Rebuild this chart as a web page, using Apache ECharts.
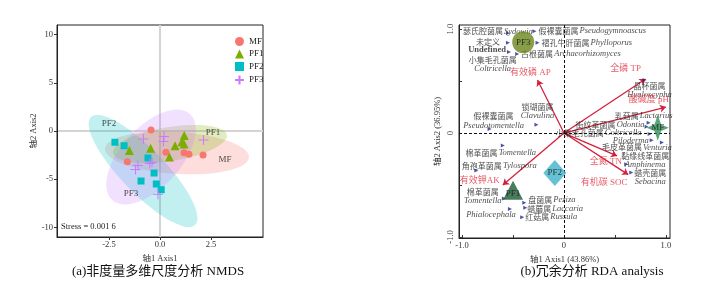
<!DOCTYPE html>
<html><head><meta charset="utf-8">
<script src="https://cdn.jsdelivr.net/npm/echarts@6/dist/echarts.min.js"></script>
<style>html,body{margin:0;padding:0;background:#fff}#c{width:722px;height:286px}</style>
</head><body><div id="c"></div>
<script>
// ===== Panel (a): NMDS =====
const groups = ['MF', 'PF1', 'PF2', 'PF3'];
const mfX  = [-0.44, 0.29, 1.18, 1.42, 2.11, -1.60];
const mfY  = [0.10, -2.21, -2.25, -2.42, -2.49, -3.19];
const pf1X = [1.19, 1.08, 1.18, 0.74, 0.46, -0.46, -1.50];
const pf1Y = [-0.47, -1.11, -1.35, -1.53, -2.70, -1.80, -2.02];
const pf2X = [-2.21, -1.76, -0.59, -0.29, -0.93, -0.18, 0.06];
const pf2Y = [-1.17, -1.53, -2.80, -4.36, -5.19, -5.50, -6.09];
const pf3X = [0.20, 0.17, -0.81, 2.13, -0.39, -0.50, -1.08, -1.20, -0.10];
const pf3Y = [-0.57, -1.09, -0.83, -0.93, -3.25, -3.37, -3.58, -4.00, -6.57];
// ellipse: centre x, centre y, conjugate semi-axis u (x,y), v (x,y) in data units
const ellMF  = [0.83, -2.28, 3.53, -0.42, 0.00, 2.18];
const ellPF1 = [0.49, -1.35, 2.79, 0.93, 0.13, -1.74];
const ellPF2 = [-0.83, -4.15, 2.55, -5.60, 0.78, 1.58];
const ellPF3 = [-0.44, -2.70, 1.91, 4.46, 1.08, -2.08];
const ellLabelX = [3.19, 2.60, -2.50, -1.42];
const ellLabelY = [-3.01, -0.21, 0.73, -6.54];
const nmdsXTicks = [-2.5, 0, 2.5];
const nmdsYTicks = [-10, -5, 0, 5, 10];
const stressText = 'Stress = 0.001 6';

// ===== Panel (b): RDA =====
const envNames = ['全磷 TP', '酸碱度 pH', '有效磷 AP', '有效钾AK', '全氮 TN', '有机碳 SOC'];
const envX = [0.80, 1.00, -0.26, -0.60, 0.52, 0.63];
const envY = [0.52, 0.25, 0.51, -0.50, -0.22, -0.40];
const grpNames = ['PF3', 'MF', 'PF2', 'PF1'];
const grpX = [-0.40, 0.92, -0.09, -0.50];
const grpY = [0.875, 0.05, -0.385, -0.55];
const spCN = ['瑟氏腔菌属','假裸囊菌属','未定义','Undefined','褶孔牛肝菌属','古根菌属','小集毛孔菌属','假裸囊菌属','锁瑚菌属','棉革菌属','角孢革菌属','棉革菌属','','盘菌属','蜡蘑属','红菇属','晶杯菌属','乳菇属','街纹革菌属','小集毛孔菌属','','毛皮革菌属','黏缘线革菌属','蜡壳菌属'];
const spLatin = ['Sydowia','Pseudogymnoascus','','','Phylloporus','Archaeorhizomyces','Coltricella','Pseudotomentella','Clavulina','Tomentella','Tylospora','Tomentella','Phialocephala','Peziza','Laccaria','Russula','Hyaloscypha','Lactarius','Odontia','Coltricella','Piloderma','Venturia','Amphinema','Sebacina'];
const spX = [-0.55,-0.29,-0.55,-0.54,-0.26,-0.46,-0.70,-0.73,-0.27,-0.60,-0.86,-0.59,-0.53,-0.39,-0.38,-0.41,0.79,0.83,0.81,0.84,0.86,0.96,0.61,0.66];
const spY = [0.96,0.98,0.87,0.78,0.87,0.76,0.66,0.04,0.08,-0.12,-0.36,-0.63,-0.73,-0.67,-0.72,-0.81,0.51,0.10,0.06,-0.01,-0.07,-0.09,-0.30,-0.38];
const rdaTicks = [-1, -0.5, 0, 0.5, 1];
const rdaLabels = [-1, 0, 1];

// ===== layout / style (not data) =====
const SERIF = "'Liberation Serif','Noto Sans CJK SC',serif";
const CJK = "'Noto Sans CJK SC','Liberation Serif',sans-serif";
const CAP = "'Liberation Serif','Noto Sans CJK SC',serif";
const colors = {MF:'#F8766D', PF1:'#7CAE00', PF2:'#00BFC4', PF3:'#C77CFF'};
const plusPath = 'path://M0,5L10,5M5,0L5,10';
// species label placement: [dx, dy, align, stacked]
const spLayout = [
  [-45,-2,'left',false],[4,0,'left',false],[-8,-1,'right',false],[-3,-2,'right',false],
  [4,0,'left',false],[4,0,'left',false],[0,0,'center',true],[4,-8,'center',true],
  [1,-13,'center',true],[-2,7,'center',false],[23,-5,'center',false],[-21,-2,'center',true],
  [-19,6,'center',false],[4,-3,'left',false],[2,1,'left',false],[3,0,'left',false],
  [5,10,'center',true],[-5,-7,'center',false],[-2,-2,'right',false],[-8,-1,'right',false],
  [-3,0,'right',false],[-25,5,'center',false],[19,-4,'center',true],[19,5,'center',true]
];
const envLayout = [[-20,-10],[-17,-7],[-7,-7],[-23,-4],[-11,6],[-24,8]];
const hiddenMarker = [6];

const zip = (xs, ys) => xs.map((x, i) => [x, ys[i]]);
const ellData = [ellMF, ellPF1, ellPF2, ellPF3];
const ptData = [zip(mfX, mfY), zip(pf1X, pf1Y), zip(pf2X, pf2Y), zip(pf3X, pf3Y)];
const symbols = ['circle', 'triangle', 'rect', plusPath];
const sizes = [7, 9, 7, 10];

function hexA(hex, a) {
  const n = parseInt(hex.slice(1), 16);
  return `rgba(${(n>>16)&255},${(n>>8)&255},${n&255},${a})`;
}

const series = [];
series.push({
  type: 'custom', name: 'ellipses', xAxisIndex: 0, yAxisIndex: 0, z: 1, silent: true,
  data: ellData.map((e, i) => ({value: e, name: groups[i]})),
  renderItem: function (params, api) {
    const cx = api.value(0), cy = api.value(1), ux = api.value(2), uy = api.value(3), vx = api.value(4), vy = api.value(5);
    const pts = [];
    for (let k = 0; k < 90; k++) {
      const t = k / 90 * Math.PI * 2;
      pts.push(api.coord([cx + Math.cos(t) * ux + Math.sin(t) * vx, cy + Math.cos(t) * uy + Math.sin(t) * vy]));
    }
    const g = groups[params.dataIndex];
    return {type: 'polygon', shape: {points: pts}, style: {fill: hexA(colors[g], 0.24), stroke: null}};
  },
  markLine: {
    silent: true, symbol: 'none', label: {show: false}, z: 0,
    lineStyle: {color: '#d4d4d4', width: 2, type: 'solid'},
    data: [{xAxis: 0}, {yAxis: 0}]
  }
});
groups.forEach((g, i) => {
  const isPlus = i === 3;
  series.push({
    type: 'scatter', name: g, xAxisIndex: 0, yAxisIndex: 0, z: 3,
    symbol: symbols[i], symbolSize: sizes[i], data: ptData[i],
    itemStyle: isPlus ? {color: 'rgba(0,0,0,0)', borderColor: colors[g], borderWidth: 1, opacity: 1}
                      : {color: colors[g], opacity: 1}
  });
});
series.push({
  type: 'scatter', name: 'ellLabels', xAxisIndex: 0, yAxisIndex: 0, z: 4, symbolSize: 0, silent: true,
  data: groups.map((g, i) => ({name: g, value: [ellLabelX[i], ellLabelY[i]]})),
  label: {show: true, position: 'inside', formatter: '{b}', color: '#222', fontFamily: SERIF, fontSize: 9}
});

// ---- Panel b ----
series.push({
  type: 'scatter', name: 'zeroB', xAxisIndex: 1, yAxisIndex: 1, data: [], z: 1,
  markLine: {
    silent: true, symbol: 'none', label: {show: false},
    lineStyle: {color: '#111', width: 1, type: [3, 2]},
    data: [{xAxis: 0}, {yAxis: 0}]
  }
});
series.push({
  type: 'lines', name: 'env', coordinateSystem: 'cartesian2d', xAxisIndex: 1, yAxisIndex: 1, z: 3,
  symbol: ['none', 'arrow'], symbolSize: 6, silent: true,
  lineStyle: {color: '#d41f3a', width: 1.3, opacity: 1},
  data: envX.map((x, i) => ({coords: [[0, 0], [x, envY[i]]]}))
});
series.push({
  type: 'scatter', name: 'envLabels', xAxisIndex: 1, yAxisIndex: 1, z: 6, symbolSize: 0, silent: true,
  data: envNames.map((n, i) => ({
    name: n, value: [envX[i], envY[i]],
    label: {offset: envLayout[i]}
  })),
  label: {show: true, position: 'inside', formatter: '{b}', color: '#e0303f', fontFamily: SERIF, fontSize: 9, align: 'center', verticalAlign: 'middle'}
});
series.push({
  type: 'scatter', name: 'species', xAxisIndex: 1, yAxisIndex: 1, z: 4, silent: true,
  symbol: 'triangle', symbolRotate: -90, symbolSize: 4, itemStyle: {color: '#1d2a90'},
  data: spX.map((x, i) => {
    const L = spLayout[i];
    const cn = spCN[i], la = spLatin[i];
    let txt;
    if (cn && la) txt = L[3] ? `{c|${cn}}\n{i|${la}}` : `{c|${cn}}{s| }{i|${la}}`;
    else if (cn) txt = cn === 'Undefined' ? `{u|${cn}}` : `{c|${cn}}`;
    else txt = `{i|${la}}`;
    return {
      value: [x, spY[i]],
      symbolSize: hiddenMarker.includes(i) ? 0 : 4,
      label: {
        show: true, position: 'inside', offset: [L[0], L[1]], align: L[2], verticalAlign: 'middle',
        formatter: txt,
        rich: {
          c: {fontFamily: CJK, fontSize: 8, color: '#222', align: L[2], lineHeight: 9},
          i: {fontFamily: SERIF, fontStyle: 'italic', fontSize: 8.5, color: '#222', align: L[2], lineHeight: 9},
          u: {fontFamily: SERIF, fontSize: 8.5, color: '#222', fontWeight: 'bold', align: L[2]},
          s: {fontSize: 4}
        }
      }
    };
  })
});
const grpStyle = {
  PF3: {symbol: 'circle', symbolSize: 22, color: '#6b861c'},
  MF: {symbol: 'path://M0,-12L3,-3L10,0L3,3L0,12L-3,3L-10,0L-3,-3Z', symbolSize: [22, 26], color: '#2e8e58'},
  PF2: {symbol: 'diamond', symbolSize: [23, 26], color: '#3eb3c9'},
  PF1: {symbol: 'triangle', symbolSize: [20, 19], color: '#1c5a34'}
};
series.push({
  type: 'scatter', name: 'groupsB', xAxisIndex: 1, yAxisIndex: 1, z: 5, silent: true,
  data: grpNames.map((g, i) => ({
    name: g, value: [grpX[i], grpY[i]],
    symbol: grpStyle[g].symbol, symbolSize: grpStyle[g].symbolSize,
    itemStyle: {color: grpStyle[g].color},
    label: {offset: g === 'PF1' ? [0, 3] : [0, 0]}
  })),
  label: {show: true, position: 'inside', formatter: '{b}', color: '#111', fontFamily: SERIF, fontSize: 9}
});

const axLab = {fontFamily: SERIF, fontSize: 8.5, color: '#333'};
const option = {
  animation: false,
  backgroundColor: '#fff',
  grid: [
    {left: 57, top: 25, width: 206, height: 212, show: true, borderColor: '#222', borderWidth: 1, backgroundColor: 'transparent'},
    {left: 459, top: 25, width: 211, height: 213, show: true, borderColor: '#222', borderWidth: 1, backgroundColor: 'transparent'}
  ],
  legend: {
    left: 229, top: 32, orient: 'vertical', itemWidth: 9, itemHeight: 9, itemGap: 3.5,
    textStyle: {fontFamily: SERIF, fontSize: 9, color: '#222'}, selectedMode: false,
    data: groups.map((g, i) => ({name: g, icon: symbols[i]}))
  },
  xAxis: [
    {gridIndex: 0, type: 'value', min: -5.05, max: 5.05, splitLine: {show: false},
     axisLine: {onZero: false, lineStyle: {color: '#222'}},
     axisTick: {customValues: nmdsXTicks, length: 3, lineStyle: {color: '#333'}},
     axisLabel: Object.assign({customValues: nmdsXTicks, margin: 4, formatter: v => v.toFixed(1)}, axLab),
     name: '轴1 Axis1', nameLocation: 'middle', nameGap: 13,
     nameTextStyle: {fontFamily: SERIF, fontSize: 8.5, color: '#333'}},
    {gridIndex: 1, type: 'value', min: -1.03, max: 1.04, splitLine: {show: false},
     axisLine: {onZero: false, lineStyle: {color: '#222'}},
     axisTick: {customValues: rdaTicks, inside: true, length: 3, lineStyle: {color: '#333'}},
     axisLabel: Object.assign({customValues: rdaLabels, margin: 4, formatter: v => v === 0 ? '0' : v.toFixed(1)}, axLab),
     name: '轴1 Axis1 (43.86%)', nameLocation: 'middle', nameGap: 13,
     nameTextStyle: {fontFamily: SERIF, fontSize: 8.5, color: '#333'}}
  ],
  yAxis: [
    {gridIndex: 0, type: 'value', min: -11, max: 11, splitLine: {show: false},
     axisLine: {onZero: false, lineStyle: {color: '#222'}},
     axisTick: {customValues: nmdsYTicks, length: 3, lineStyle: {color: '#333'}},
     axisLabel: Object.assign({customValues: nmdsYTicks, margin: 4}, axLab),
     name: '轴2 Axis2', nameLocation: 'middle', nameGap: 14,
     nameTextStyle: {fontFamily: SERIF, fontSize: 8.5, color: '#333'}},
    {gridIndex: 1, type: 'value', min: -1.01, max: 1.04, splitLine: {show: false},
     axisLine: {onZero: false, lineStyle: {color: '#222'}},
     axisTick: {customValues: rdaTicks, inside: true, length: 3, lineStyle: {color: '#333'}},
     axisLabel: Object.assign({customValues: rdaLabels, margin: 4, rotate: 90, formatter: v => v === 0 ? '0' : v.toFixed(1)}, axLab),
     name: '轴2 Axis2 (36.95%)', nameLocation: 'middle', nameGap: 17,
     nameTextStyle: {fontFamily: SERIF, fontSize: 8.5, color: '#333'}}
  ],
  graphic: [
    {type: 'text', left: 61, top: 223, style: {text: stressText, fontFamily: SERIF, fontSize: 8.5, fill: '#222'}},
    {type: 'text', x: 158, y: 272, style: {text: '(a)非度量多维尺度分析 NMDS', fontFamily: CAP, fontSize: 13, fill: '#111', align: 'center', verticalAlign: 'middle'}},
    {type: 'text', x: 592, y: 272, style: {text: '(b)冗余分析 RDA analysis', fontFamily: CAP, fontSize: 13, fill: '#111', align: 'center', verticalAlign: 'middle'}}
  ],
  series: series
};
const chart = echarts.init(document.getElementById('c'), null, {renderer: 'canvas'});
chart.setOption(option);
</script>
</body></html>
